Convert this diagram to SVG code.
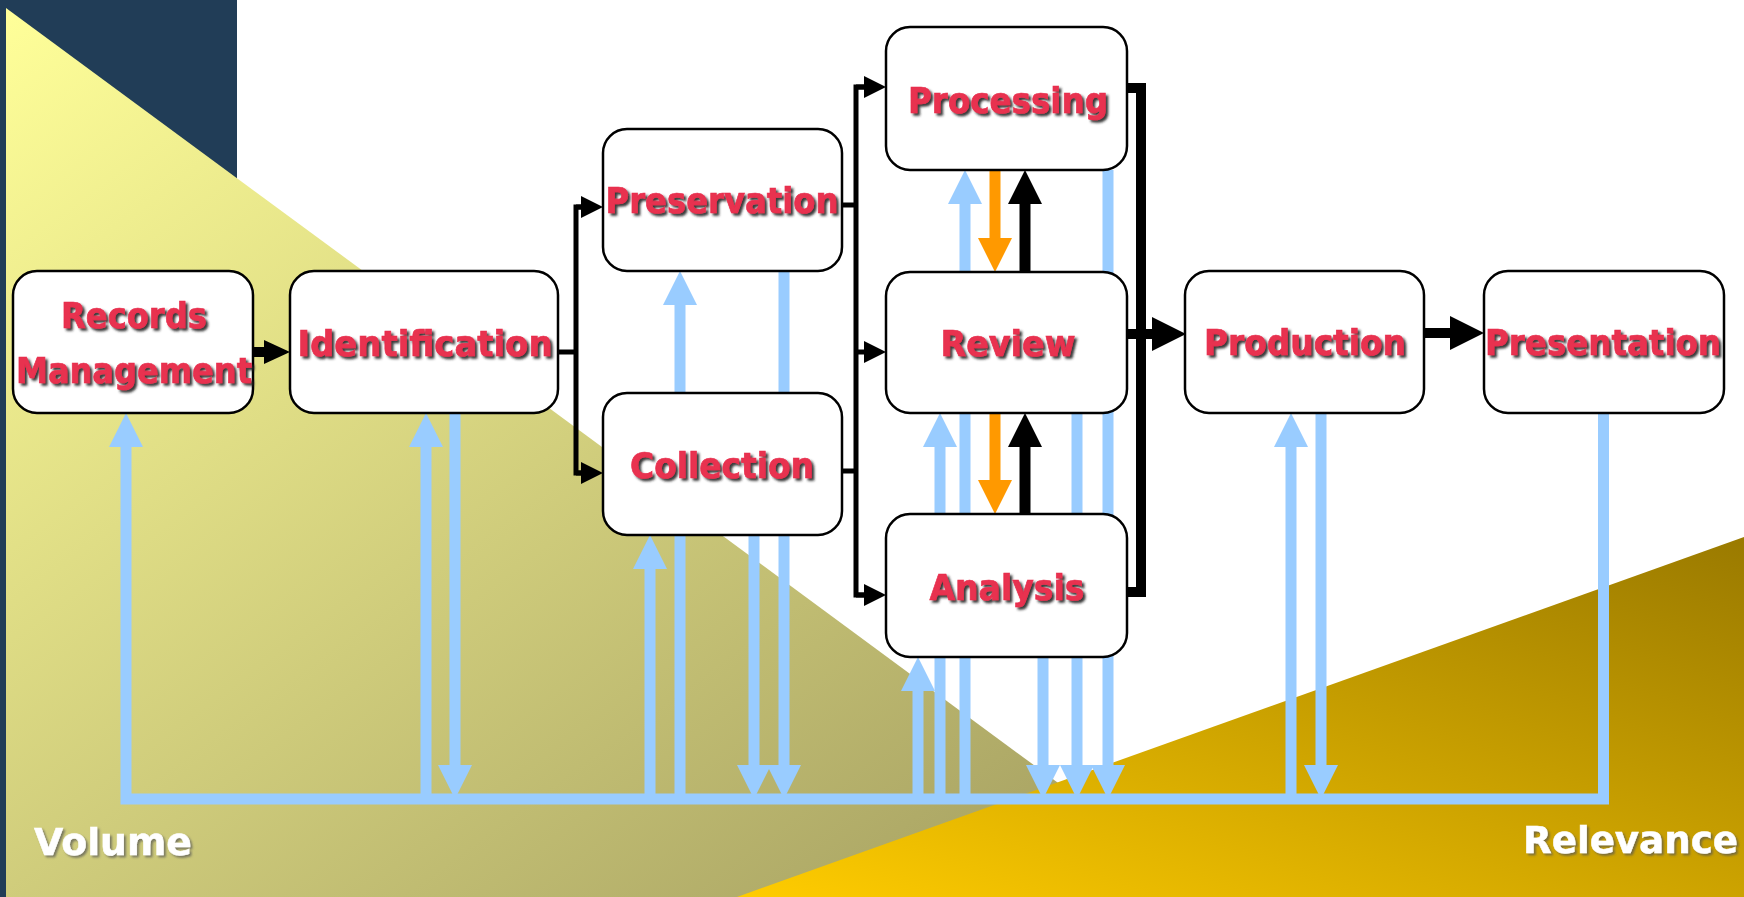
<svg xmlns="http://www.w3.org/2000/svg" width="1744" height="897" viewBox="0 0 1744 897">
  <defs>
    <style>
      .box { fill: #ffffff; stroke: #000000; stroke-width: 2.5; }
      .lbl { font-family: "DejaVu Sans", Verdana, sans-serif; font-weight: bold; font-size: 36px; fill: #e8304f; stroke: #e8304f; stroke-width: 0.7; text-anchor: middle; filter: url(#tshadow); }
      .axis { font-family: "DejaVu Sans", Verdana, sans-serif; font-weight: bold; font-size: 38px; fill: #ffffff; stroke: #ffffff; stroke-width: 0.5; filter: url(#ashadow); }
      .blue { fill: none; stroke: #99ccff; stroke-width: 11; stroke-linejoin: miter; }
      .thin { fill: none; stroke: #000000; stroke-width: 5; stroke-linejoin: miter; }
      .thick { fill: none; stroke: #000000; stroke-width: 10; stroke-linejoin: miter; }
      .up { fill: none; stroke: #000000; stroke-width: 11; }
      .orange { fill: none; stroke: #ff9900; stroke-width: 11; }
    </style>
    <linearGradient id="volumeFill" x1="0" y1="0" x2="1" y2="1">
      <stop offset="0" stop-color="#ffff99"/>
      <stop offset="1" stop-color="#a09a5e"/>
    </linearGradient>
    <linearGradient id="relevanceFill" x1="0" y1="1" x2="1" y2="0">
      <stop offset="0" stop-color="#ffcc00"/>
      <stop offset="1" stop-color="#9a7a00"/>
    </linearGradient>
    <filter id="tshadow" x="-10%" y="-30%" width="125%" height="170%">
      <feDropShadow dx="2.5" dy="2.5" stdDeviation="1" flood-color="#222222" flood-opacity="0.9"/>
    </filter>
    <filter id="ashadow" x="-10%" y="-30%" width="125%" height="170%">
      <feDropShadow dx="2" dy="2" stdDeviation="1.2" flood-color="#555555" flood-opacity="0.7"/>
    </filter>
    <!-- arrowheads -->
    <marker id="ahBlue" markerUnits="userSpaceOnUse" markerWidth="34" markerHeight="34" viewBox="0 0 34 34" refX="0" refY="17" orient="auto">
      <path d="M0,0 L34,17 L0,34 Z" fill="#99ccff"/>
    </marker>
    <marker id="ahBlack" markerUnits="userSpaceOnUse" markerWidth="34" markerHeight="34" viewBox="0 0 34 34" refX="0" refY="17" orient="auto">
      <path d="M0,0 L34,17 L0,34 Z" fill="#000000"/>
    </marker>
    <marker id="ahOrange" markerUnits="userSpaceOnUse" markerWidth="34" markerHeight="34" viewBox="0 0 34 34" refX="0" refY="17" orient="auto">
      <path d="M0,0 L34,17 L0,34 Z" fill="#ff9900"/>
    </marker>
    <marker id="ahMid" markerUnits="userSpaceOnUse" markerWidth="26" markerHeight="24" viewBox="0 0 26 24" refX="0" refY="12" orient="auto">
      <path d="M0,0 L26,12 L0,24 Z" fill="#000000"/>
    </marker>
    <marker id="ahThin" markerUnits="userSpaceOnUse" markerWidth="22" markerHeight="22" viewBox="0 0 22 22" refX="0" refY="11" orient="auto">
      <path d="M0,0 L22,11 L0,22 Z" fill="#000000"/>
    </marker>
  </defs>

  <!-- backdrop -->
  <g id="backdrop">
    <rect x="0" y="0" width="1744" height="897" fill="#ffffff"/>
    <rect x="0" y="0" width="237" height="897" fill="#213d57"/>
    <polygon points="6,8 1213,897 6,897" fill="url(#volumeFill)"/>
    <polygon points="737,897 1744,537 1744,897" fill="url(#relevanceFill)"/>
  </g>

  <!-- connectors -->
  <g id="connectors">
    <!-- feedback arrows between each stage and the bottom rail -->
    <path class="blue" d="M426,799 V447" marker-end="url(#ahBlue)"/>
    <path class="blue" d="M455,413 V765" marker-end="url(#ahBlue)"/>
    <path class="blue" d="M680,799 V305" marker-end="url(#ahBlue)"/>
    <path class="blue" d="M784,271 V765" marker-end="url(#ahBlue)"/>
    <path class="blue" d="M650,799 V569" marker-end="url(#ahBlue)"/>
    <path class="blue" d="M754,535 V765" marker-end="url(#ahBlue)"/>
    <path class="blue" d="M965,799 V204" marker-end="url(#ahBlue)"/>
    <path class="blue" d="M1108,170 V765" marker-end="url(#ahBlue)"/>
    <path class="blue" d="M940,799 V447" marker-end="url(#ahBlue)"/>
    <path class="blue" d="M1077,413 V765" marker-end="url(#ahBlue)"/>
    <path class="blue" d="M918,799 V691" marker-end="url(#ahBlue)"/>
    <path class="blue" d="M1043,657 V765" marker-end="url(#ahBlue)"/>
    <path class="blue" d="M1291,799 V447" marker-end="url(#ahBlue)"/>
    <path class="blue" d="M1321,413 V765" marker-end="url(#ahBlue)"/>
    <!-- bottom rail from Presentation back to Records Management -->
    <path class="blue" d="M1603.5,412 V799 H126 V447" marker-end="url(#ahBlue)"/>

    <!-- iteration between Processing, Review and Analysis -->
    <path class="orange" d="M995,170 V238" marker-end="url(#ahOrange)"/>
    <path class="orange" d="M995,413 V480" marker-end="url(#ahOrange)"/>
    <path class="up" d="M1025,272 V204" marker-end="url(#ahBlack)"/>
    <path class="up" d="M1025,514 V447" marker-end="url(#ahBlack)"/>

    <!-- main flow -->
    <path class="thick" d="M253,352 H264" marker-end="url(#ahMid)"/>
    <path class="thin" d="M558,352 H576"/>
    <path class="thin" d="M581,207 H576 V473 H581"/>
    <path class="thin" d="M576,207 H581" marker-end="url(#ahThin)"/>
    <path class="thin" d="M576,473 H581" marker-end="url(#ahThin)"/>
    <path class="thin" d="M842,205 H856"/>
    <path class="thin" d="M842,471 H856"/>
    <path class="thin" d="M864,87 H856 V595 H864"/>
    <path class="thin" d="M856,87 H864" marker-end="url(#ahThin)"/>
    <path class="thin" d="M856,352 H864" marker-end="url(#ahThin)"/>
    <path class="thin" d="M856,595 H864" marker-end="url(#ahThin)"/>
    <path class="thick" d="M1127,88 H1141 V592 H1127"/>
    <path class="thick" d="M1127,334 H1152" marker-end="url(#ahBlack)"/>
    <path class="thick" d="M1424,333 H1450" marker-end="url(#ahBlack)"/>
  </g>

  <!-- stages -->
  <g id="records-management">
    <rect class="box" x="13" y="271" width="240" height="142" rx="24" ry="24"/>
    <text class="lbl" x="134" y="328" textLength="146" lengthAdjust="spacingAndGlyphs">Records</text>
    <text class="lbl" x="134" y="383" textLength="236" lengthAdjust="spacingAndGlyphs">Management</text>
  </g>
  <g id="identification">
    <rect class="box" x="290" y="271" width="268" height="142" rx="24" ry="24"/>
    <text class="lbl" x="425" y="356" textLength="255" lengthAdjust="spacingAndGlyphs">Identification</text>
  </g>
  <g id="preservation">
    <rect class="box" x="603" y="129" width="239" height="142" rx="24" ry="24"/>
    <text class="lbl" x="722" y="213" textLength="233" lengthAdjust="spacingAndGlyphs">Preservation</text>
  </g>
  <g id="collection">
    <rect class="box" x="603" y="393" width="239" height="142" rx="24" ry="24"/>
    <text class="lbl" x="722" y="478" textLength="184" lengthAdjust="spacingAndGlyphs">Collection</text>
  </g>
  <g id="processing">
    <rect class="box" x="886" y="27" width="241" height="143" rx="24" ry="24"/>
    <text class="lbl" x="1008" y="113" textLength="200" lengthAdjust="spacingAndGlyphs">Processing</text>
  </g>
  <g id="review">
    <rect class="box" x="886" y="272" width="241" height="141" rx="24" ry="24"/>
    <text class="lbl" x="1008" y="356" textLength="135" lengthAdjust="spacingAndGlyphs">Review</text>
  </g>
  <g id="analysis">
    <rect class="box" x="886" y="514" width="241" height="143" rx="24" ry="24"/>
    <text class="lbl" x="1007" y="600" textLength="155" lengthAdjust="spacingAndGlyphs">Analysis</text>
  </g>
  <g id="production">
    <rect class="box" x="1185" y="271" width="239" height="142" rx="24" ry="24"/>
    <text class="lbl" x="1305" y="355" textLength="202" lengthAdjust="spacingAndGlyphs">Production</text>
  </g>
  <g id="presentation">
    <rect class="box" x="1484" y="271" width="240" height="142" rx="24" ry="24"/>
    <text class="lbl" x="1603" y="355" textLength="236" lengthAdjust="spacingAndGlyphs">Presentation</text>
  </g>

  <!-- axis captions -->
  <g id="axis-labels">
    <text class="axis" x="34" y="855" textLength="158" lengthAdjust="spacingAndGlyphs">Volume</text>
    <text class="axis" x="1523" y="853" textLength="215" lengthAdjust="spacingAndGlyphs">Relevance</text>
  </g>
</svg>
